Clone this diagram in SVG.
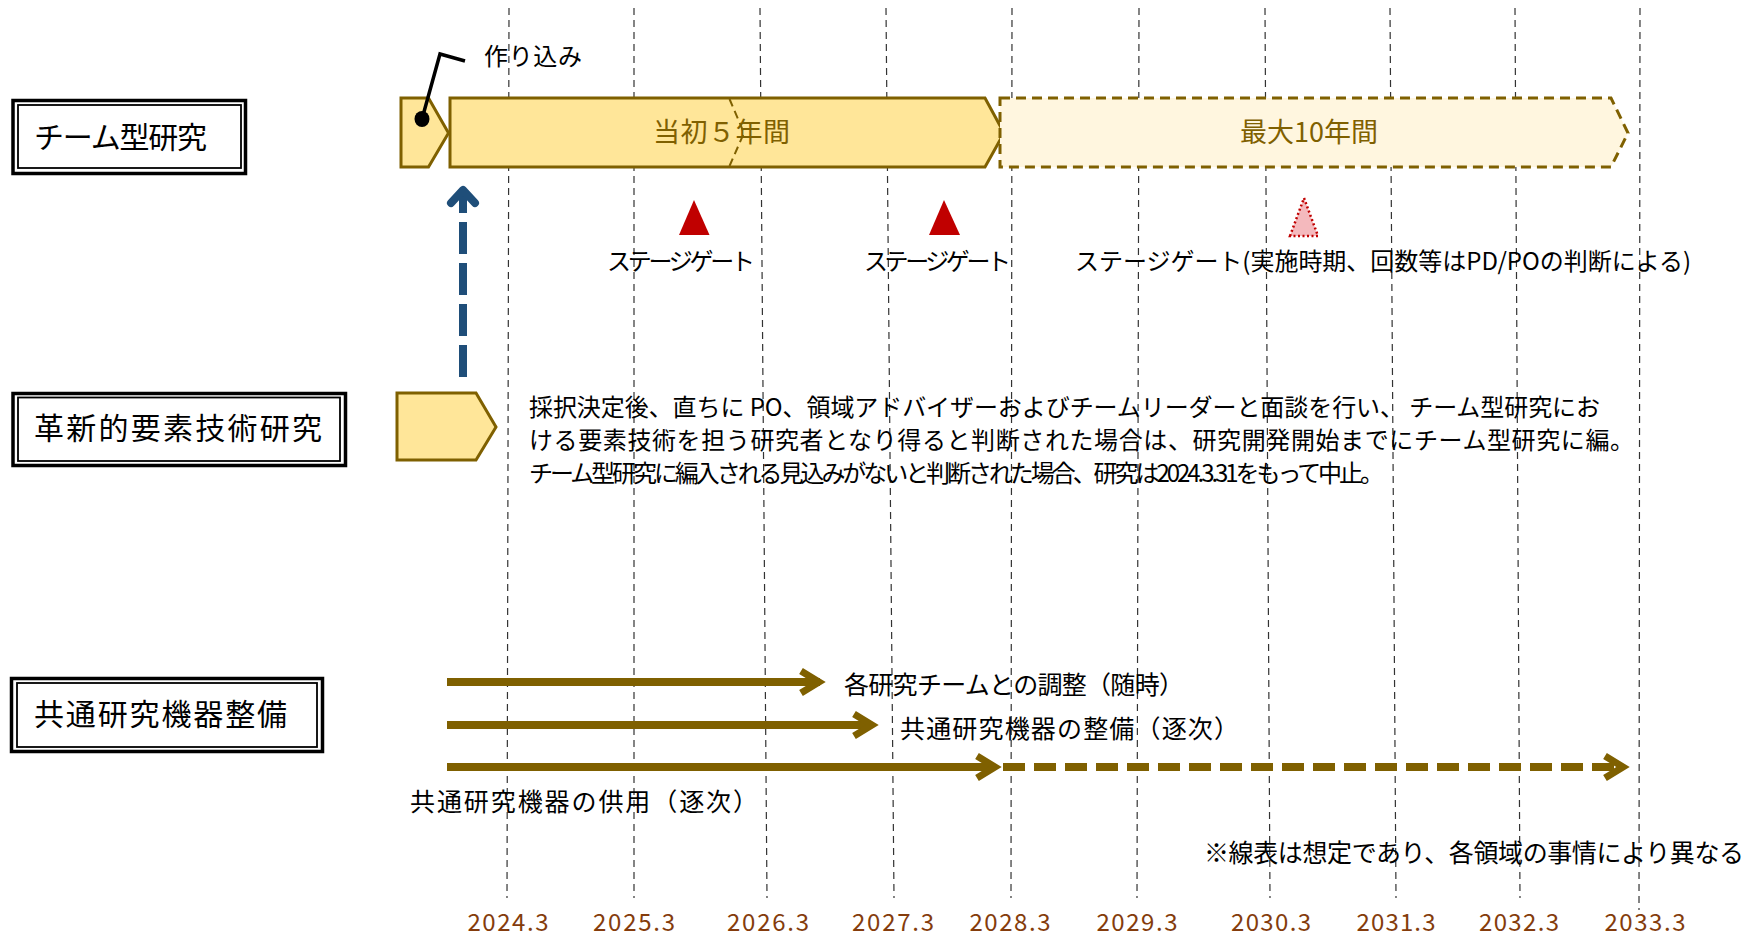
<svg xmlns="http://www.w3.org/2000/svg" width="1759" height="935" viewBox="0 0 1759 935">
<style>
  text { font-family: "Noto Sans CJK JP", "Noto Sans CJK SC", sans-serif; dominant-baseline: central; }
  .grid { stroke: #333; stroke-width: 1.2; stroke-dasharray: 7 5; fill: none; }
  .outer { fill: #fff; stroke: #000; stroke-width: 3.5; }
  .inner { fill: none; stroke: #000; stroke-width: 1.8; }
  .label { font-size: 30px; fill: #000; }
  .bar { fill: #FFE699; stroke: #7F6000; stroke-width: 3; }
  .bartxt { font-size: 27px; fill: #7F6000; }
  .gate { fill: #C00000; }
  .t24 { font-size: 24px; fill: #000; }
  .t25 { font-size: 25px; fill: #000; }
  .year { font-size: 24px; fill: #843C0C; text-anchor: middle; }
  .arr { stroke: #7F6000; stroke-width: 8; fill: none; }
  .head { stroke: #7F6000; stroke-width: 7; fill: none; stroke-linejoin: miter; }
</style>

<g id="grid">
  <line class="grid" x1="509" y1="8" x2="507" y2="898"/>
  <line class="grid" x1="634" y1="8" x2="634" y2="898"/>
  <line class="grid" x1="760" y1="8" x2="767" y2="898"/>
  <line class="grid" x1="886" y1="8" x2="894" y2="898"/>
  <line class="grid" x1="1012" y1="8" x2="1011" y2="898"/>
  <line class="grid" x1="1139" y1="8" x2="1137" y2="898"/>
  <line class="grid" x1="1265" y1="8" x2="1270" y2="898"/>
  <line class="grid" x1="1390" y1="8" x2="1396" y2="898"/>
  <line class="grid" x1="1515" y1="8" x2="1520" y2="898"/>
  <line class="grid" x1="1640" y1="8" x2="1639" y2="910"/>
</g>

<g id="years">
  <text class="year" x="508" y="920" textLength="81">2024.3</text>
  <text class="year" x="634" y="920" textLength="82">2025.3</text>
  <text class="year" x="768" y="920" textLength="82">2026.3</text>
  <text class="year" x="893" y="920" textLength="82">2027.3</text>
  <text class="year" x="1010" y="920" textLength="81">2028.3</text>
  <text class="year" x="1137" y="920" textLength="81">2029.3</text>
  <text class="year" x="1271" y="920" textLength="80">2030.3</text>
  <text class="year" x="1396" y="920" textLength="79">2031.3</text>
  <text class="year" x="1519" y="920" textLength="80">2032.3</text>
  <text class="year" x="1645" y="920" textLength="81">2033.3</text>
</g>

<g id="box-team">
  <rect class="outer" x="13" y="100.5" width="232.5" height="73"/>
  <rect class="inner" x="18" y="105" width="223" height="63"/>
  <text class="label" x="34" y="135" textLength="173">チーム型研究</text>
</g>

<g id="box-kakushin">
  <rect class="outer" x="13" y="393.5" width="332.5" height="72"/>
  <rect class="inner" x="18" y="397.5" width="322" height="63.5"/>
  <text class="label" x="34" y="426" textLength="288">革新的要素技術研究</text>
</g>

<g id="box-kyotsu">
  <rect class="outer" x="11.5" y="678.5" width="311" height="73"/>
  <rect class="inner" x="17" y="683" width="300" height="64"/>
  <text class="label" x="34" y="712" textLength="253">共通研究機器整備</text>
</g>

<g id="tsukurikomi">
  <polygon class="bar" points="401,98 428.5,98 448.5,133 428.5,167 401,167"/>
  <polyline points="422,119 440,54 465,61" fill="none" stroke="#000" stroke-width="3.5"/>
  <ellipse cx="422" cy="119" rx="7.5" ry="8" fill="#000"/>
  <text class="t24" x="484" y="54" textLength="98">作り込み</text>
</g>

<g id="bar-5years">
  <polygon class="bar" points="450,98 985,98 1004,133 985,167 450,167"/>
  <polyline points="729.5,99 744,133 729.5,166" fill="none" stroke="#7F6000" stroke-width="2" stroke-dasharray="8 5"/>
  <text class="bartxt" x="653" y="130" textLength="137">当初５年間</text>
</g>

<g id="bar-10years">
  <polygon points="1000,98 1611,98 1628,133 1611,167 1000,167" fill="#FFF6DF" stroke="#7F6000" stroke-width="3" stroke-dasharray="10 6"/>
  <text class="bartxt" x="1240" y="130" textLength="138">最大10年間</text>
</g>

<g id="gate1">
  <polygon class="gate" points="679,235 694,200 709.5,235"/>
  <text class="t24" x="607" y="259" textLength="148">ステージゲート</text>
</g>
<g id="gate2">
  <polygon class="gate" points="929,235 944,200 960,235"/>
  <text class="t24" x="864" y="259" textLength="147">ステージゲート</text>
</g>
<g id="gate3">
  <polygon points="1290,236 1304,198 1318,236" fill="#F4B9BD" stroke="#C00000" stroke-width="2.5" stroke-dasharray="2 2.5"/>
  <text class="t24" x="1075" y="259" textLength="616">ステージゲート(実施時期、回数等はPD/POの判断による)</text>
</g>

<g id="kakushin-bar">
  <polygon class="bar" points="397,393 476,393 496,427 476,460 397,460"/>
</g>

<g id="kakushin-text">
  <text class="t24" x="529" y="405" textLength="1071">採択決定後、直ちに PO、領域アドバイザーおよびチームリーダーと面談を行い、 チーム型研究にお</text>
  <text class="t24" x="529" y="438" textLength="1105">ける要素技術を担う研究者となり得ると判断された場合は、研究開発開始までにチーム型研究に編。</text>
  <text class="t24" x="529" y="471" textLength="855">チーム型研究に編入される見込みがないと判断された場合、研究は2024.3.31をもって中止。</text>
</g>

<g id="connectors">
  <line x1="463" y1="377" x2="463" y2="194" stroke="#1F4E79" stroke-width="8" stroke-dasharray="32 9"/>
  <polyline points="451,203 463,190 475,203" fill="none" stroke="#1F4E79" stroke-width="8" stroke-linecap="round" stroke-linejoin="round"/>

  <line class="arr" x1="447" y1="682" x2="820" y2="682"/>
  <polyline class="head" points="801,671 819,682 801,693"/>

  <line class="arr" x1="447" y1="725" x2="872" y2="725"/>
  <polyline class="head" points="854,714 872,725 854,736"/>

  <line class="arr" x1="447" y1="767" x2="990" y2="767"/>
  <polyline class="head" points="977,756 995,767 977,778"/>
  <line class="arr" x1="1003" y1="767" x2="1620" y2="767" stroke-dasharray="22 9"/>
  <polyline class="head" points="1605,756 1623,767 1605,778"/>
</g>

<g id="kyotsu-labels">
  <text class="t25" x="844" y="683" textLength="340">各研究チームとの調整（随時）</text>
  <text class="t25" x="900" y="727" textLength="339">共通研究機器の整備（逐次）</text>
  <text class="t25" x="410" y="800" textLength="348">共通研究機器の供用（逐次）</text>
</g>

<g id="note">
  <text class="t25" x="1204" y="851" textLength="540">※線表は想定であり、各領域の事情により異なる</text>
</g>
</svg>
